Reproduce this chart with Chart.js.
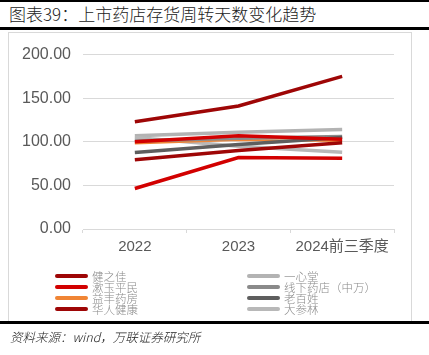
<!DOCTYPE html>
<html><head><meta charset="utf-8">
<script src="https://cdn.jsdelivr.net/npm/chart.js@4"></script>
<style>
html,body{margin:0;padding:0;background:#fff;width:429px;height:355px;overflow:hidden;position:relative;font-family:"Noto Sans CJK SC","Liberation Sans",sans-serif;}
.abs{position:absolute;}
#title{left:9px;top:4px;font-size:17px;color:#222;white-space:nowrap;font-family:"Noto Sans CJK SC";font-weight:300;line-height:20px;}
#src{left:10px;top:329px;font-size:12.5px;color:#222;font-style:italic;white-space:nowrap;line-height:16px;font-family:"Noto Sans CJK SC";font-weight:300;}
.bar{left:0;width:429px;background:#000;}
#box{left:8px;top:32px;width:402px;height:289px;border:1px solid #d9d9d9;border-bottom:none;}
#cwrap{left:0;top:33px;width:429px;height:240px;}
.lg{position:absolute;font-size:11.5px;color:#8a8a8a;line-height:12px;white-space:nowrap;font-weight:300;}
.mk{position:absolute;height:4px;border-radius:2px;width:33px;}
</style></head><body>
<div class="abs bar" style="top:0;height:2px"></div>
<div class="abs" id="title">图表39：上市药店存货周转天数变化趋势</div>
<div class="abs bar" style="top:27px;height:3px"></div>
<div class="abs" id="box"></div>
<div class="abs" id="cwrap"><canvas id="c" width="429" height="240"></canvas></div>
<div id="legend"></div>
<div class="abs bar" style="top:321px;height:3px"></div>
<div class="abs" id="src">资料来源：wind，万联证券研究所</div>
<script>
const categories = ["2022", "2023", "2024前三季度"];
const seriesNames = ["健之佳", "漱玉平民", "益丰药房", "华人健康", "一心堂", "线下药店（中万）", "老百姓", "大参林"];
const jianzhijia = [123, 141, 175];
const shuyupingmin = [46.5, 82, 81];
const yifeng = [98, 102, 101];
const huarenjiankang = [79.5, 90, 99];
const yixintang = [107, 111, 114];
const xianxia = [101, 104, 106];
const laobaixing = [87.6, 97, 105];
const dashenlin = [105, 95, 88];
const extraRed = [100, 107, 103];
const yTicks = [0, 50, 100, 150, 200];
const colors = ["#9e0606", "#d20000", "#f08535", "#9e0606", "#b3b3b3", "#8a8a8a", "#5e5e5e", "#b8b8b8"];
const values = [jianzhijia, shuyupingmin, yifeng, huarenjiankang, yixintang, xianxia, laobaixing, dashenlin];

const order = [1, 3, 6, 5, 2, 0, 7, 4];
const datasets = [];
datasets.push({label: "", data: extraRed, borderColor: "#d20000", borderWidth: 3.5, pointRadius: 0, fill: false, tension: 0});
order.forEach(i => {
  datasets.push({label: seriesNames[i], data: values[i], borderColor: colors[i], borderWidth: i === 2 ? 2 : 3.5, pointRadius: 0, fill: false, tension: 0});
});

new Chart(document.getElementById("c"), {
  type: "line",
  data: {labels: categories, datasets},
  options: {
    responsive: false, animation: false,
    layout: {padding: {left: 0, right: 35, top: 14, bottom: 0}},
    plugins: {legend: {display: false}, tooltip: {enabled: false}},
    scales: {
      x: {
        offset: true,
        grid: {display: true, offset: true, drawOnChartArea: false, drawTicks: true, tickLength: 4, color: "#d9d9d9"},
        border: {display: true, color: "#d9d9d9"},
        ticks: {color: "#595959", font: {size: 15, family: "'Liberation Sans','Noto Sans CJK SC'"}, padding: 5, maxRotation: 0, autoSkip: false},
        afterFit: s => { s.height = 44; }
      },
      y: {
        min: 0, max: 200,
        afterBuildTicks: s => { s.ticks = yTicks.map(v => ({value: v})); },
        grid: {color: "#d9d9d9", drawTicks: false, lineWidth: 1},
        border: {display: false},
        ticks: {color: "#595959", padding: 12, font: {size: 16, family: "'Liberation Sans'"}, callback: v => v.toFixed(2)},
        afterFit: s => { s.width = 83; }
      }
    }
  }
});

// two-column legend
const lg = document.getElementById("legend");
const rowsY = [276, 287, 298, 309];
seriesNames.forEach((n, i) => {
  const col = Math.floor(i / 4), row = i % 4;
  const mx = col === 0 ? 55 : 247, tx = col === 0 ? 92 : 284;
  const m = document.createElement("div");
  m.className = "mk"; m.style.left = mx + "px"; m.style.top = (rowsY[row] - 2) + "px"; m.style.background = colors[i];
  lg.appendChild(m);
  const t = document.createElement("div");
  t.className = "lg"; t.style.left = tx + "px"; t.style.top = (rowsY[row] - 6) + "px"; t.textContent = n;
  lg.appendChild(t);
});
</script>
</body></html>
